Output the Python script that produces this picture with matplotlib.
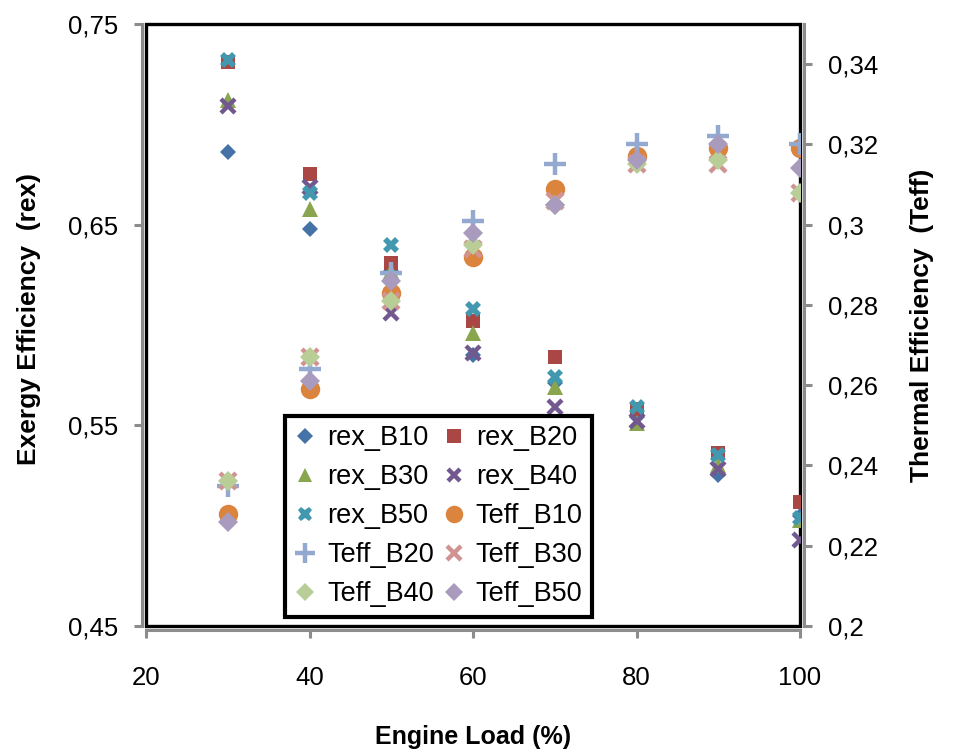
import matplotlib
matplotlib.use("Agg")
import matplotlib.pyplot as plt
from matplotlib.patches import Rectangle
from matplotlib.ticker import FuncFormatter

plt.rcParams['font.family'] = ['Liberation Sans', 'DejaVu Sans']

load = [30, 40, 50, 60, 70, 80, 90, 100]

# exergy efficiency (left axis)
rex_B10 = [0.686, 0.648, 0.627, 0.585, 0.571, 0.554, 0.525, 0.505]
rex_B20 = [0.731, 0.675, 0.631, 0.602, 0.584, 0.558, 0.536, 0.512]
rex_B30 = [0.712, 0.658, 0.627, 0.596, 0.569, 0.551, 0.530, 0.503]
rex_B40 = [0.709, 0.669, 0.606, 0.586, 0.559, 0.552, 0.528, 0.493]
rex_B50 = [0.732, 0.666, 0.640, 0.608, 0.574, 0.559, 0.535, 0.504]

# thermal efficiency (right axis)
Teff_B10 = [0.228, 0.259, 0.283, 0.292, 0.309, 0.317, 0.319, 0.319]
Teff_B20 = [0.235, 0.264, 0.288, 0.301, 0.315, 0.320, 0.322, 0.320]
Teff_B30 = [0.236, 0.267, 0.281, 0.294, 0.306, 0.315, 0.315, 0.308]
Teff_B40 = [0.236, 0.267, 0.281, 0.295, 0.305, 0.315, 0.316, 0.308]
Teff_B50 = [0.226, 0.261, 0.286, 0.298, 0.305, 0.316, 0.320, 0.314]

left_ticks = [0.45, 0.55, 0.65, 0.75]
right_ticks = [0.2, 0.22, 0.24, 0.26, 0.28, 0.3, 0.32, 0.34]
x_ticks = [20, 40, 60, 80, 100]

GRAY = '#8c8c8c'
comma = FuncFormatter(lambda v, p: ('%g' % v).replace('.', ','))

fig = plt.figure(figsize=(9.55, 7.55), dpi=100)
ax = fig.add_axes([0.1529, 0.1709, 0.6848, 0.7973])
ax2 = ax.twinx()

h = []
h += ax.plot(load, rex_B10, 'D', color='#4572A7', ms=8.5, mew=0, label='rex_B10')
h += ax.plot(load, rex_B20, 's', color='#AA4643', ms=10.5, mew=0, label='rex_B20')
h += ax.plot(load, rex_B30, '^', color='#89A54E', ms=11.5, mew=0, label='rex_B30')
h += ax.plot(load, rex_B40, 'x', color='#71588F', ms=9.5, mew=3.2, label='rex_B40')
h += ax.plot(load, rex_B50, 'X', color='#4198AF', ms=11.5, mew=0, label='rex_B50')
h += ax2.plot(load, Teff_B10, 'o', color='#DB843D', ms=14, mew=0, label='Teff_B10')
h += ax2.plot(load, Teff_B20, '+', color='#93A9CF', ms=16, mew=3.2, label='Teff_B20')
h += ax2.plot(load, Teff_B30, 'x', color='#D19392', ms=11, mew=3.2, label='Teff_B30')
h += ax2.plot(load, Teff_B40, 'D', color='#B9CD96', ms=10.5, mew=0, label='Teff_B40')
h += ax2.plot(load, Teff_B50, 'D', color='#A99BBD', ms=10.5, mew=0, label='Teff_B50')

ax.set_xlim(20, 100)
ax.set_ylim(0.45, 0.75)
ax2.set_ylim(0.2, 0.35)
ax.set_xticks(x_ticks)
ax.set_yticks(left_ticks)
ax2.set_yticks(right_ticks)
ax.yaxis.set_major_formatter(comma)
ax2.yaxis.set_major_formatter(comma)

# gray axis lines just outside a black plot-area frame
for s in ['left', 'bottom']:
    ax.spines[s].set_color(GRAY)
    ax.spines[s].set_linewidth(2.2)
    ax.spines[s].set_position(('outward', 3))
ax.spines['top'].set_visible(False)
ax.spines['right'].set_visible(False)
for s in ['left', 'bottom', 'top']:
    ax2.spines[s].set_visible(False)
ax2.spines['right'].set_color(GRAY)
ax2.spines['right'].set_linewidth(2.2)
ax2.spines['right'].set_position(('outward', 3))
ax.add_patch(Rectangle((0, 0), 1, 1, transform=ax.transAxes, fill=False,
                       ec='black', lw=2.4, clip_on=False, zorder=1))

ax.tick_params(axis='both', direction='out', length=6, width=2.2,
               color=GRAY, labelsize=18.5)
ax.tick_params(axis='y', pad=11)
ax.tick_params(axis='x', pad=20)
ax2.tick_params(axis='y', direction='out', length=6, width=2.2,
                color=GRAY, labelsize=18.5, pad=11)

ax.set_xlabel('Engine Load (%)', fontsize=18, fontweight='bold')
ax.xaxis.set_label_coords(0.5, -0.184)
ax.xaxis.label.set_va('center')
ax.set_ylabel('Exergy Efficiency  (rex)', fontsize=19, fontweight='bold')
ax.yaxis.set_label_coords(-0.179, 0.51)
ax.yaxis.label.set_va('center')
ax2.set_ylabel('Thermal Efficiency  (Teff)', fontsize=19, fontweight='bold',
               rotation=90)
ax2.yaxis.set_label_coords(1.187, 0.5)
ax2.yaxis.label.set_va('center')

# two-column legend filled row by row
order = [0, 2, 4, 6, 8, 1, 3, 5, 7, 9]
leg = ax2.legend([h[i] for i in order], [h[i].get_label() for i in order],
                 ncol=2, loc='lower left', bbox_to_anchor=(0.2125, 0.015),
                 borderaxespad=0, fontsize=19.5, frameon=True, fancybox=False,
                 edgecolor='black', framealpha=1, handlelength=0.8,
                 handletextpad=0.4, columnspacing=0.35, labelspacing=0.48,
                 borderpad=0.35, markerscale=0.9)
leg.get_frame().set_linewidth(3)

fig.savefig('out.png', dpi=100)
